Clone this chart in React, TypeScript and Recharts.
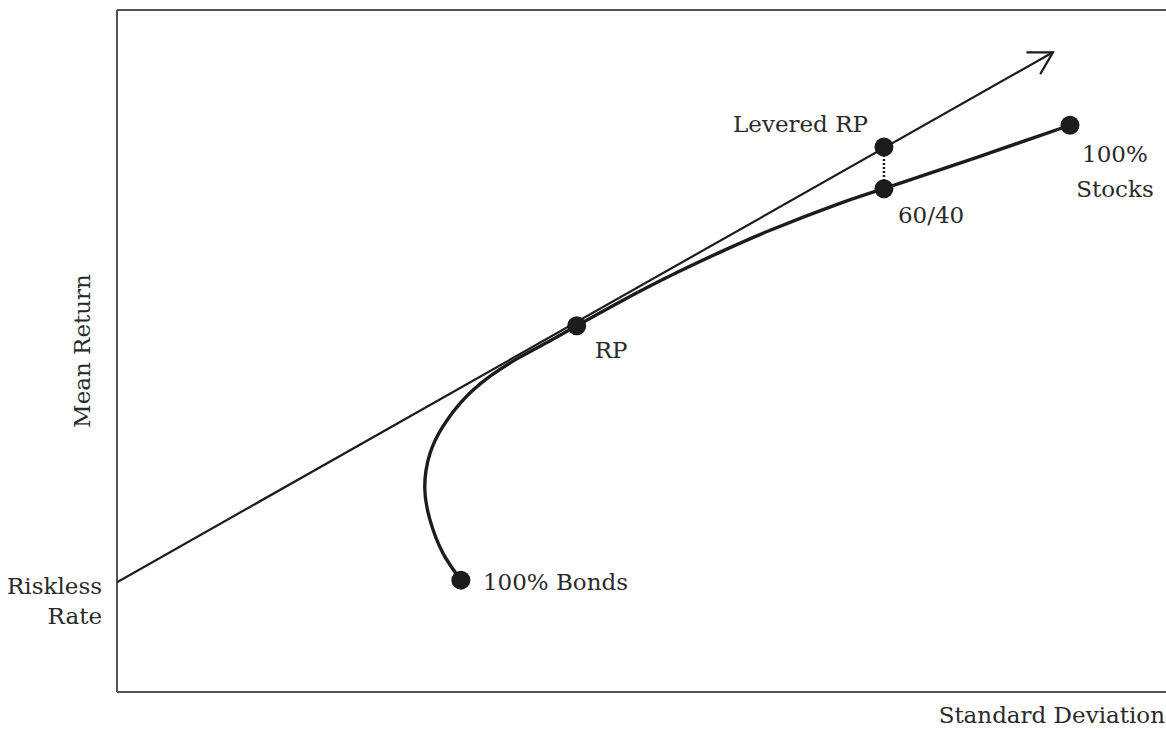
import React from 'react';
import { ComposedChart, Line, XAxis, YAxis, ReferenceLine, ReferenceDot } from 'recharts';

// standard deviation (x) / mean return (y)
// curved part of the frontier, 100% bonds up to 60/40
const frontierX = [6.47, 6.13, 5.89, 5.79, 5.89, 6.13, 6.51, 7.02, 7.58, 8.15, 8.65, 9.46, 10.4, 11.35, 12.29, 13.55, 14.43];
const frontierY = [1.64, 2.04, 2.52, 3.01, 3.5, 3.89, 4.28, 4.63, 4.91, 5.15, 5.37, 5.72, 6.1, 6.45, 6.77, 7.15, 7.38];

// straight stretch, 60/40 up to 100% stocks
const upperX = [14.43, 16.18, 17.93];
const upperY = [7.38, 7.84, 8.31];

const cmlX = [0, 17.61];
const cmlY = [1.61, 9.38];

const arrowX = [17.11, 17.61, 17.37];
const arrowY = [9.38, 9.38, 9.06];

const leverX = [14.43, 14.43];
const leverY = [7.99, 7.38];

const pointNames = ['100% Bonds', 'RP', '60/40', 'Levered RP', '100% Stocks'];
const pointX = [6.47, 8.65, 14.43, 14.43, 17.93];
const pointY = [1.64, 5.37, 7.38, 7.99, 8.31];

const risklessRate = 1.61;

const toRows = (xs: number[], ys: number[]) => xs.map((x, i) => ({ x, y: ys[i] }));
const frontier = toRows(frontierX, frontierY);
const upper = toRows(upperX, upperY);
const cml = toRows(cmlX, cmlY);
const arrow = toRows(arrowX, arrowY);
const lever = toRows(leverX, leverY);

const FONT = '"DejaVu Serif", serif';
const INK = '#1c1c1c';
const TEXT = '#2a2a2a';
const BORDER = '#555';

// label placement relative to each dot centre
const labelLayout: Record<string, { lines: string[]; dx: number; dy: number[]; anchor: 'start' | 'middle' | 'end' }> = {
  '100% Bonds': { lines: ['100% Bonds'], dx: 22, dy: [10], anchor: 'start' },
  RP: { lines: ['RP'], dx: 18, dy: [32], anchor: 'start' },
  '60/40': { lines: ['60/40'], dx: 14, dy: [34], anchor: 'start' },
  'Levered RP': { lines: ['Levered RP'], dx: -16, dy: [-15], anchor: 'end' },
  '100% Stocks': { lines: ['100%', 'Stocks'], dx: 45, dy: [37, 72], anchor: 'middle' },
};

const dotLabel = (name: string) => (props: any) => {
  const vb = props.viewBox;
  const cx = vb.x + vb.width / 2;
  const cy = vb.y + vb.height / 2;
  const l = labelLayout[name];
  return (
    <g>
      {l.lines.map((t, i) => (
        <text key={t} x={cx + l.dx} y={cy + l.dy[i]} textAnchor={l.anchor} fontFamily={FONT} fontSize={23} fill={TEXT}>
          {t}
        </text>
      ))}
    </g>
  );
};

const rateLabel = (props: any) => {
  const vb = props.viewBox;
  const cy = vb.y + vb.height / 2;
  return (
    <g>
      <text x={vb.x - 15} y={cy + 12} textAnchor="end" fontFamily={FONT} fontSize={23} fill={TEXT}>Riskless</text>
      <text x={vb.x - 15} y={cy + 42} textAnchor="end" fontFamily={FONT} fontSize={23} fill={TEXT}>Rate</text>
    </g>
  );
};

const yTitle = (props: any) => {
  const vb = props.viewBox;
  const x = vb.x - 27;
  const y = vb.y + vb.height / 2;
  return (
    <text x={x} y={y} transform={`rotate(-90, ${x}, ${y})`} textAnchor="middle" fontFamily={FONT} fontSize={23} fill={TEXT}>
      Mean Return
    </text>
  );
};

const xTitle = (props: any) => {
  const vb = props.viewBox;
  return (
    <text x={vb.x + vb.width - 15} y={vb.y + 31} textAnchor="end" fontFamily={FONT} fontSize={23} fill={TEXT}>
      Standard Deviation
    </text>
  );
};

const App: React.FC = () => {
  return (
    <div style={{ position: 'absolute', left: 0, top: 0, width: 1166, height: 736, overflow: 'hidden', background: '#fff' }}>
      <ComposedChart width={1200} height={736} margin={{ top: 10, right: 20, bottom: 44, left: 117 }}>
        <XAxis type="number" dataKey="x" domain={[0, 20]} hide allowDataOverflow />
        <YAxis type="number" dataKey="y" domain={[0, 10]} hide allowDataOverflow />

        <ReferenceLine x={0} stroke={BORDER} strokeWidth={2} label={yTitle} />
        <ReferenceLine y={10} stroke={BORDER} strokeWidth={2} />
        <ReferenceLine y={0} stroke={BORDER} strokeWidth={2} label={xTitle} />

        <Line data={cml} dataKey="y" type="linear" stroke={INK} strokeWidth={2.2} dot={false} isAnimationActive={false} />
        <Line data={arrow} dataKey="y" type="linear" stroke={INK} strokeWidth={2.2} dot={false} isAnimationActive={false} />
        <Line data={frontier} dataKey="y" type="natural" stroke={INK} strokeWidth={3.4} dot={false} isAnimationActive={false} />
        <Line data={upper} dataKey="y" type="linear" stroke={INK} strokeWidth={3.4} dot={false} isAnimationActive={false} />
        <Line data={lever} dataKey="y" type="linear" stroke={INK} strokeWidth={2.5} strokeDasharray="2 2" dot={false} isAnimationActive={false} />

        <ReferenceDot x={0} y={risklessRate} r={0} stroke="none" fill="none" label={rateLabel} />
        {pointNames.map((name, i) => (
          <ReferenceDot key={name} x={pointX[i]} y={pointY[i]} r={9.5} fill={INK} stroke="none" label={dotLabel(name)} />
        ))}
      </ComposedChart>
    </div>
  );
};

export default App;
